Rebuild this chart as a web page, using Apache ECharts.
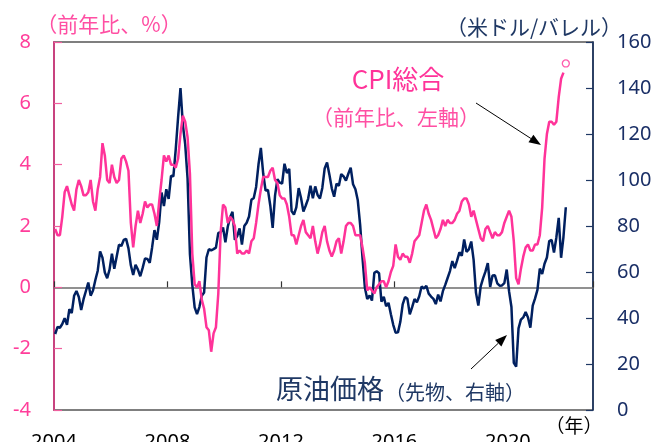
<!DOCTYPE html>
<html><head><meta charset="utf-8">
<script src="https://cdn.jsdelivr.net/npm/echarts/dist/echarts.min.js"></script>
<style>html,body{margin:0;padding:0;background:#fff}#c{width:654px;height:442px}</style>
</head><body><div id="c"></div>
<script>
// Monthly categories 2004-01 .. 2022-12
const startYear = 2004;
const monthCount = 228;
const xTickYears = [2004, 2008, 2012, 2016, 2020];
const leftTicks = [-4, -2, 0, 2, 4, 6, 8];
const rightTicks = [0, 20, 40, 60, 80, 100, 120, 140, 160];

// CPI (YoY %), 2004-01 .. 2021-12
const cpi = [
 1.9,1.7,1.7,2.3,3.1,3.3,3.0,2.7,2.5,3.2,3.5,3.3,
 3.0,3.0,3.1,3.5,2.8,2.5,3.2,3.6,4.7,4.3,3.5,3.4,
 4.0,3.6,3.4,3.5,4.2,4.3,4.1,3.8,2.1,1.3,2.0,2.5,
 2.1,2.4,2.8,2.6,2.7,2.7,2.4,2.0,2.8,3.5,4.3,4.1,
 4.3,4.0,4.0,3.9,4.2,5.0,5.6,5.4,4.9,3.7,1.1,0.1,
 0.0,0.2,-0.4,-0.7,-1.3,-1.4,-2.1,-1.5,-1.3,-0.2,1.8,2.7,
 2.6,2.1,2.3,2.2,2.0,1.1,1.2,1.1,1.1,1.2,1.1,1.5,
 1.6,2.1,2.7,3.2,3.6,3.6,3.6,3.8,3.9,3.5,3.4,3.0,
 2.9,2.9,2.7,2.3,1.7,1.7,1.4,1.7,2.0,2.2,1.8,1.7,
 1.6,2.0,1.5,1.1,1.4,1.8,2.0,1.5,1.2,1.0,1.2,1.5,
 1.6,1.1,1.5,2.0,2.1,2.1,2.0,1.7,1.7,1.7,1.3,0.8,
 -0.1,0.0,-0.1,-0.2,0.0,0.1,0.2,0.2,0.0,0.2,0.5,0.7,
 1.4,1.0,0.9,1.1,1.0,1.0,0.8,1.1,1.5,1.6,1.7,2.1,
 2.5,2.7,2.4,2.2,1.9,1.6,1.7,1.9,2.2,2.0,2.2,2.1,
 2.1,2.2,2.4,2.5,2.8,2.9,2.9,2.7,2.3,2.5,2.2,1.9,
 1.6,1.5,1.9,2.0,1.8,1.6,1.8,1.7,1.7,1.8,2.1,2.3,
 2.5,2.3,1.5,0.3,0.1,0.6,1.0,1.3,1.4,1.2,1.2,1.4,
 1.4,1.7,2.6,4.2,5.0,5.4,5.4,5.3,5.4,6.2,6.8,7.0
];
// Latest (2022-01) shown as hollow marker
const cpiLatest = 7.3;

// WTI crude futures (USD/bbl, month end), 2004-01 .. 2022-01
const oil = [
 33.05,36.16,35.76,37.38,39.88,37.05,43.80,42.12,49.64,51.76,49.13,43.45,
 48.20,51.75,55.40,49.72,51.97,56.50,60.57,68.94,66.24,59.76,57.32,61.04,
 67.92,61.41,66.63,71.88,71.29,73.93,74.40,70.26,62.91,58.73,63.13,61.05,
 58.14,61.79,65.87,65.71,64.01,70.68,78.21,74.04,81.66,94.53,88.71,95.98,
 91.75,101.84,101.58,113.46,127.35,140.00,124.08,115.46,100.64,67.81,54.43,44.60,
 41.68,44.76,49.66,51.12,66.31,69.89,69.45,69.96,70.61,77.00,77.28,79.36,
 72.89,79.66,83.76,86.15,73.97,75.63,78.95,71.92,79.97,81.43,84.11,91.38,
 92.19,96.97,106.72,113.93,102.70,95.42,95.70,88.81,79.20,93.19,100.36,98.83,
 98.48,107.07,103.02,104.87,86.53,84.96,88.06,96.47,92.19,86.24,88.91,91.82,
 97.49,92.05,97.23,93.46,91.97,96.56,105.03,107.65,102.33,96.38,92.72,98.42,
 97.49,102.59,101.58,99.74,102.71,105.37,98.17,95.96,91.16,80.54,66.15,53.27,
 48.24,49.76,47.60,59.63,60.30,59.47,47.12,49.20,45.09,46.59,41.65,37.04,
 33.62,33.75,38.34,45.92,49.10,48.33,41.60,44.70,48.24,46.86,49.44,53.72,
 52.81,54.01,50.60,49.33,48.32,46.04,50.17,47.23,51.67,54.38,57.40,60.42,
 64.73,61.64,64.94,68.57,67.04,74.15,68.76,69.80,73.25,65.31,50.93,45.41,
 53.79,57.22,60.14,63.91,53.50,58.47,58.58,55.10,54.07,54.18,55.17,61.06,
 51.56,44.76,20.48,18.84,35.49,39.27,40.27,42.61,40.22,35.79,45.34,48.52,
 52.20,61.50,59.16,63.58,66.32,73.47,73.95,68.50,75.03,83.57,66.18,75.21,
 88.15
];

const PINK = '#ff3399';
const NAVY = '#002060';
const FONT = '"Noto Sans", "DejaVu Sans", sans-serif';
const CJK = '"Noto Sans CJK JP", sans-serif';

const chart = echarts.init(document.getElementById('c'), null, {renderer: 'canvas'});

function arrow(x1, y1, x2, y2) {
  const dx = x2 - x1, dy = y2 - y1, L = Math.hypot(dx, dy);
  const ux = dx / L, uy = dy / L, nx = -uy, ny = ux;
  const hl = 12, hw = 4.5;
  const bx = x2 - ux * hl, by = y2 - uy * hl;
  return [
    {type: 'line', shape: {x1, y1, x2: bx, y2: by}, style: {stroke: '#000', lineWidth: 1}, z: 10},
    {type: 'polygon', shape: {points: [[x2, y2], [bx + nx * hw, by + ny * hw], [bx - nx * hw, by - ny * hw]]}, style: {fill: '#000'}, z: 10}
  ];
}

function txt(text, x, y, size, color, align) {
  return {type: 'text', z: 10, x: x, y: y, style: {text, x: 0, y: 0, fill: color, font: size + 'px ' + CJK,
    fontSize: size, fontFamily: CJK, align: align || 'center', verticalAlign: 'middle',
    textAlign: align || 'center', textVerticalAlign: 'middle'}};
}

const option = {
  animation: false,
  backgroundColor: '#fff',
  grid: {left: 54, right: 61, top: 42, bottom: 32, containLabel: false, outerBoundsMode: 'none',
    show: true, borderColor: '#000', borderWidth: 1.2, backgroundColor: 'transparent'},
  xAxis: [
    {type: 'value', min: 0, max: monthCount, interval: 48, position: 'bottom',
     axisLine: {show: true, onZero: true, onZeroAxisIndex: 0, lineStyle: {color: '#6e6e6e', width: 1.6}},
     axisTick: {show: true, inside: true, length: 6, lineStyle: {color: '#333', width: 1.2}},
     axisLabel: {show: false}, splitLine: {show: false}},
    {type: 'value', min: 0, max: monthCount, interval: 48, position: 'bottom',
     axisLine: {show: false, onZero: false}, axisTick: {show: false}, splitLine: {show: false},
     axisLabel: {show: true, margin: 22, fontSize: 20, fontFamily: FONT, color: '#000',
       formatter: v => { const y = startYear + v / 12; return xTickYears.includes(y) ? String(y) : ''; }}}
  ],
  yAxis: [
    {type: 'value', min: leftTicks[0], max: leftTicks[leftTicks.length - 1], interval: 2, position: 'left',
     axisLine: {show: true, onZero: false, lineStyle: {color: '#c8437f', width: 2}},
     axisTick: {show: true, inside: true, length: 8, lineStyle: {color: '#f0609f', width: 1.2}},
     axisLabel: {margin: 23, fontSize: 20, fontFamily: FONT, color: '#ff3d9a'},
     splitLine: {show: false}},
    {type: 'value', min: rightTicks[0], max: rightTicks[rightTicks.length - 1], interval: 20, position: 'right',
     axisLine: {show: true, onZero: false, lineStyle: {color: '#1f3864', width: 1.6}},
     axisTick: {show: true, inside: true, length: 7, lineStyle: {color: '#1f3864', width: 1.2}},
     axisLabel: {margin: 24, fontSize: 20, fontFamily: FONT, color: '#1a2f66'},
     splitLine: {show: false}}
  ],
  series: [
    {name: 'oil', type: 'line', xAxisIndex: 0, yAxisIndex: 1, showSymbol: false, z: 2,
     lineStyle: {color: NAVY, width: 2.5}, data: oil.map((v, i) => [i + 0.5, v])},
    {name: 'cpi', type: 'line', xAxisIndex: 0, yAxisIndex: 0, showSymbol: false, z: 3,
     lineStyle: {color: PINK, width: 2.5}, data: cpi.map((v, i) => [i + 0.5, v])},
    {name: 'cpiLatest', type: 'scatter', xAxisIndex: 0, yAxisIndex: 0, z: 4, symbol: 'circle', symbolSize: 7,
     itemStyle: {color: '#fff', borderColor: PINK, borderWidth: 1.3},
     data: [[cpi.length + 0.5, cpiLatest]]}
  ],
  graphic: [
    txt('（前年比、%）', 109, 24, 21, '#ff4fa3'),
    txt('（米ドル/バレル）', 534, 27, 21, '#1f3864'),
    txt('CPI総合', 398, 79, 26, PINK),
    txt('（前年比、左軸）', 396, 117, 21, '#ff4fa3'),
    txt('原油価格', 330, 389, 27, '#1f3864'),
    txt('（先物、右軸）', 455, 392, 20, '#1f3864'),
    txt('（年）', 574, 426, 19, '#000'),
    ...arrow(476, 103, 541, 145),
    ...arrow(471, 369, 507, 335)
  ]
};
chart.setOption(option);
</script>
</body></html>
